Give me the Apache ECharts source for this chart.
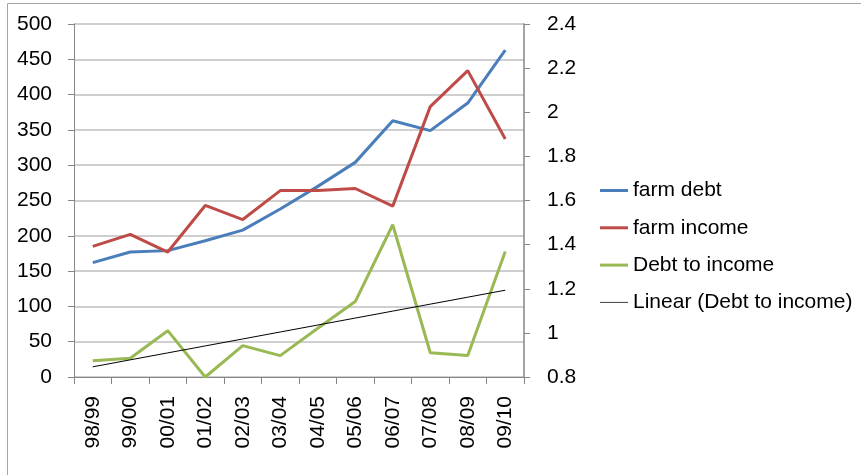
<!DOCTYPE html>
<html>
<head>
<meta charset="utf-8">
<script src="https://cdn.jsdelivr.net/npm/echarts@6/dist/echarts.min.js"></script>
<style>html,body{margin:0;padding:0;background:#fff;}#c{width:861px;height:475px;}</style>
</head>
<body>
<div id="c"></div>
<script>
var categories = ['98/99','99/00','00/01','01/02','02/03','03/04','04/05','05/06','06/07','07/08','08/09','09/10'];
var farmDebt = [162,177,179,193,208,238,270,304,363,349,388,463];
var farmIncome = [185,202,177,243,223,264,264,267,242,383,434,337];
var debtToIncome = [0.874,0.885,1.01,0.80,0.942,0.897,1.021,1.142,1.49,0.91,0.897,1.369];
var leftTicks = [0,50,100,150,200,250,300,350,400,450,500];
var rightTicks = [0.8,1,1.2,1.4,1.6,1.8,2,2.2,2.4];

// least-squares linear trend of Debt to income (like Excel's trendline)
var n = debtToIncome.length, sx = 0, sy = 0, sxy = 0, sxx = 0;
debtToIncome.forEach(function (v, i) { sx += i; sy += v; sxy += i * v; sxx += i * i; });
var slope = (n * sxy - sx * sy) / (n * sxx - sx * sx);
var intercept = (sy - slope * sx) / n;
var trend = debtToIncome.map(function (v, i) { return intercept + slope * i; });

var font = 'Liberation Sans';
var thickIcon = 'path://M0,0M0,14M0,5.5H28V8.5H0Z';
var thinIcon = 'path://M0,0M0,14M0,6.5H28V7.5H0Z';
var chart = echarts.init(document.getElementById('c'));
chart.setOption({
  animation: false,
  backgroundColor: '#fff',
  graphic: [{
    type: 'rect', shape: { x: 7.5, y: 3.5, width: 900, height: 600 },
    style: { fill: 'none', stroke: '#a6a6a6', lineWidth: 1 }, silent: true
  }],
  grid: { left: 74, right: 337, top: 24, bottom: 98, containLabel: false },
  legend: {
    orient: 'vertical', left: 600, top: 180, itemGap: 16.3, padding: 0,
    itemWidth: 28, itemHeight: 14,
    textStyle: { fontFamily: font, fontSize: 21, color: '#000', lineHeight: 21 },
    data: [
      { name: 'farm debt', icon: thickIcon, itemStyle: { color: '#4a7ebb' } },
      { name: 'farm income', icon: thickIcon, itemStyle: { color: '#be4b48' } },
      { name: 'Debt to income', icon: thickIcon, itemStyle: { color: '#98b954' } },
      { name: 'Linear (Debt to income)', icon: thinIcon, itemStyle: { color: '#404040' } }
    ]
  },
  xAxis: {
    type: 'category', data: categories, boundaryGap: true,
    axisLine: { lineStyle: { color: '#868686', width: 1 } },
    axisTick: { show: true, length: 7, alignWithLabel: false, lineStyle: { color: '#868686' } },
    axisLabel: { rotate: 90, fontFamily: font, fontSize: 21, color: '#000', margin: 19, interval: 0 }
  },
  yAxis: [{
    type: 'value', min: 0, max: 500, interval: 50, position: 'left',
    axisLine: { show: true, lineStyle: { color: '#868686' } },
    axisTick: { show: true, length: 6, lineStyle: { color: '#868686' } },
    splitLine: { show: true, lineStyle: { color: '#bfbfbf', width: 1.5 } },
    axisLabel: { fontFamily: font, fontSize: 21, color: '#000', margin: 22 }
  }, {
    type: 'value', min: 0.8, max: 2.4, interval: 0.2, position: 'right',
    axisLine: { show: true, lineStyle: { color: '#868686', width: 1.5 } },
    axisTick: { show: true, length: 6, lineStyle: { color: '#868686' } },
    splitLine: { show: false },
    axisLabel: { fontFamily: font, fontSize: 21, color: '#000', margin: 23,
      formatter: function (v) { return String(Math.round(v * 10) / 10); } }
  }],
  series: [{
    name: 'farm debt', type: 'line', data: farmDebt, yAxisIndex: 0,
    symbol: 'none', lineStyle: { color: '#4a7ebb', width: 3 }, itemStyle: { color: '#4a7ebb' }
  }, {
    name: 'farm income', type: 'line', data: farmIncome, yAxisIndex: 0,
    symbol: 'none', lineStyle: { color: '#be4b48', width: 3 }, itemStyle: { color: '#be4b48' }
  }, {
    name: 'Debt to income', type: 'line', data: debtToIncome, yAxisIndex: 1,
    symbol: 'none', lineStyle: { color: '#98b954', width: 3 }, itemStyle: { color: '#98b954' }
  }, {
    name: 'Linear (Debt to income)', type: 'line', data: trend, yAxisIndex: 1,
    symbol: 'none', lineStyle: { color: '#000', width: 1 }, itemStyle: { color: '#000' }
  }]
});
</script>
</body>
</html>
